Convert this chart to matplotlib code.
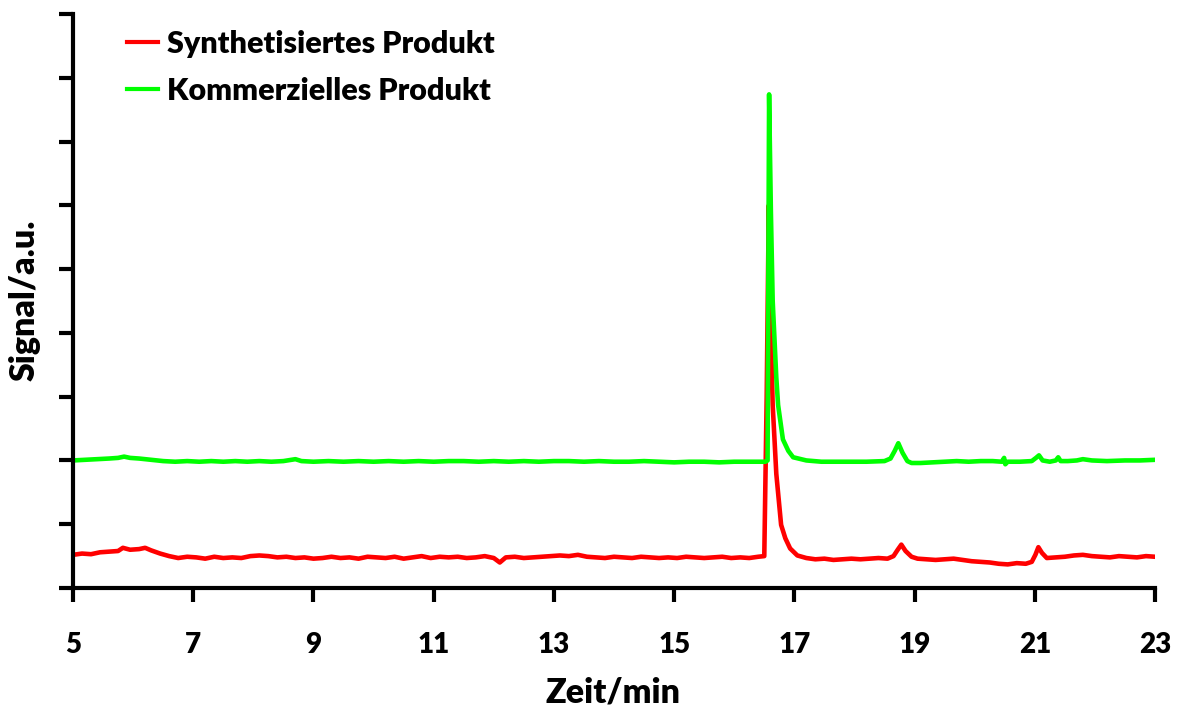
import matplotlib
matplotlib.use("Agg")
import matplotlib.pyplot as plt

# ---- data ----
red_time = [5.00, 5.15, 5.30, 5.45, 5.60, 5.75, 5.83, 5.95, 6.10, 6.20, 6.30, 6.45, 6.60, 6.75,
            6.90, 7.05, 7.20, 7.35, 7.50, 7.65, 7.80, 7.95, 8.10, 8.25, 8.40, 8.55, 8.70, 8.85,
            9.00, 9.15, 9.30, 9.45, 9.60, 9.75, 9.90, 10.05, 10.20, 10.35, 10.50, 10.65, 10.80,
            10.95, 11.10, 11.25, 11.40, 11.55, 11.70, 11.85, 12.00, 12.10, 12.20, 12.35, 12.50,
            12.65, 12.80, 12.95, 13.10, 13.25, 13.40, 13.55, 13.70, 13.85, 14.00, 14.15, 14.30,
            14.45, 14.60, 14.75, 14.90, 15.05, 15.20, 15.35, 15.50, 15.65, 15.80, 15.95, 16.10,
            16.25, 16.40, 16.50, 16.54, 16.575, 16.61, 16.64, 16.70, 16.78, 16.85, 16.93, 17.05,
            17.20, 17.35, 17.50, 17.65, 17.80, 17.95, 18.10, 18.25, 18.40, 18.55, 18.65, 18.72,
            18.78, 18.85, 18.95, 19.05, 19.20, 19.35, 19.50, 19.65, 19.80, 19.95, 20.10, 20.25,
            20.40, 20.55, 20.70, 20.85, 20.95, 21.01, 21.06, 21.12, 21.20, 21.35, 21.50, 21.65,
            21.80, 21.95, 22.10, 22.25, 22.40, 22.55, 22.70, 22.85, 23.00]
red_signal = [0.52, 0.54, 0.53, 0.56, 0.57, 0.58, 0.63, 0.60, 0.61, 0.63, 0.59, 0.54, 0.50, 0.47,
              0.49, 0.48, 0.46, 0.49, 0.47, 0.48, 0.47, 0.50, 0.51, 0.50, 0.48, 0.49, 0.47, 0.48,
              0.46, 0.47, 0.49, 0.47, 0.48, 0.46, 0.49, 0.48, 0.47, 0.49, 0.46, 0.48, 0.50,
              0.47, 0.49, 0.48, 0.49, 0.47, 0.48, 0.50, 0.47, 0.40, 0.48, 0.49, 0.47,
              0.48, 0.49, 0.50, 0.51, 0.50, 0.52, 0.49, 0.48, 0.47, 0.49, 0.48, 0.47,
              0.49, 0.48, 0.47, 0.48, 0.47, 0.49, 0.48, 0.47, 0.48, 0.49, 0.47, 0.48,
              0.47, 0.49, 0.50, 3.00, 6.00, 4.00, 2.87, 1.79, 0.99, 0.78, 0.62, 0.51,
              0.47, 0.45, 0.46, 0.44, 0.45, 0.46, 0.45, 0.46, 0.47, 0.46, 0.50, 0.60,
              0.68, 0.58, 0.49, 0.46, 0.45, 0.44, 0.45, 0.46, 0.44, 0.42, 0.41, 0.40,
              0.38, 0.37, 0.39, 0.38, 0.41, 0.52, 0.64, 0.55, 0.47, 0.48, 0.49, 0.51,
              0.52, 0.50, 0.49, 0.48, 0.50, 0.49, 0.48, 0.50, 0.49]

green_time = [5.00, 5.20, 5.40, 5.60, 5.75, 5.85, 5.95, 6.10, 6.30, 6.50, 6.70, 6.90, 7.10, 7.30,
              7.50, 7.70, 7.90, 8.10, 8.30, 8.50, 8.70, 8.80, 9.00, 9.25, 9.50, 9.75, 10.00,
              10.25, 10.50, 10.75, 11.00, 11.25, 11.50, 11.75, 12.00, 12.25, 12.50, 12.75, 13.00,
              13.25, 13.50, 13.75, 14.00, 14.25, 14.50, 14.75, 15.00, 15.25, 15.50, 15.75, 16.00,
              16.25, 16.52, 16.555, 16.58, 16.61, 16.64, 16.70, 16.73, 16.81, 16.90, 16.98, 17.20,
              17.45, 17.70, 17.95, 18.20, 18.50, 18.60, 18.67, 18.73, 18.80, 18.88, 18.95, 19.10,
              19.30, 19.50, 19.70, 19.90, 20.10, 20.30, 20.45, 20.49, 20.51, 20.55, 20.75, 20.95,
              21.02, 21.07, 21.13, 21.25, 21.35, 21.39, 21.43, 21.55, 21.70, 21.80, 21.95, 22.20,
              22.50, 22.75, 23.00]
green_signal = [2.00, 2.01, 2.02, 2.03, 2.04, 2.06, 2.04, 2.03, 2.01, 1.99, 1.98, 1.99, 1.98, 1.99,
                1.98, 1.99, 1.98, 1.99, 1.98, 1.99, 2.02, 1.99, 1.98, 1.99, 1.98, 1.99, 1.98,
                1.99, 1.98, 1.99, 1.98, 1.99, 1.99, 1.98, 1.99, 1.98, 1.99, 1.98, 1.99,
                1.99, 1.98, 1.99, 1.98, 1.98, 1.99, 1.98, 1.97, 1.98, 1.98, 1.97, 1.98,
                1.98, 1.98, 2.00, 7.74, 5.90, 4.50, 3.30, 2.87, 2.33, 2.15, 2.05, 2.00,
                1.98, 1.98, 1.98, 1.98, 1.99, 2.03, 2.15, 2.27, 2.12, 1.99, 1.96, 1.96,
                1.97, 1.98, 1.99, 1.98, 1.99, 1.99, 1.98, 2.04, 1.94, 1.98, 1.98, 1.99,
                2.04, 2.08, 2.00, 1.98, 2.00, 2.05, 1.99, 1.99, 2.00, 2.02, 2.00, 1.99,
                2.00, 2.00, 2.01]

labels = ["Synthetisiertes Produkt", "Kommerzielles Produkt"]
x_ticks = [5, 7, 9, 11, 13, 15, 17, 19, 21, 23]
y_ticks = list(range(0, 10))

plt.rcParams['font.family'] = ['Lato', 'DejaVu Sans']
W = 'heavy'

fig = plt.figure(figsize=(11.8, 7.13), dpi=100)
ax = fig.add_axes([73/1180, 1-588/713, (1155-73)/1180, (588-14)/713])

ax.plot(red_time, red_signal, color='#ff0000', lw=3.3, label=labels[0], solid_joinstyle='round')
ax.plot(green_time, green_signal, color='#00ff00', lw=3.3, label=labels[1], solid_joinstyle='round')

ax.set_xlim(5, 23)
ax.set_ylim(0, 9)
ax.set_xticks(x_ticks)
ax.set_xticklabels([str(t) for t in x_ticks], fontsize=20, fontweight=W)
ax.set_yticks(y_ticks)
ax.set_yticklabels([])
ax.tick_params(axis='both', direction='out', length=10, width=3, pad=22)

for s in ['top', 'right']:
    ax.spines[s].set_visible(False)
for s in ['left', 'bottom']:
    ax.spines[s].set_linewidth(3)

fig.text(613/1180, 1-692/713, "Zeit/min", fontsize=24.5, fontweight=W, ha='center', va='center')
fig.text(25/1180, 1-300/713, "Signal/a.u.", fontsize=24.5, fontweight=W, ha='center', va='center',
         rotation=90)

leg = ax.legend(loc='upper left', bbox_to_anchor=((127-73)/1082, (588-30)/574), frameon=False,
                prop={'size': 22, 'weight': W}, handlelength=1.0, borderpad=0, borderaxespad=0,
                handletextpad=0.3, labelspacing=0.62)
for line in leg.get_lines():
    line.set_linewidth(3)

fig.savefig("out.png", dpi=100)
